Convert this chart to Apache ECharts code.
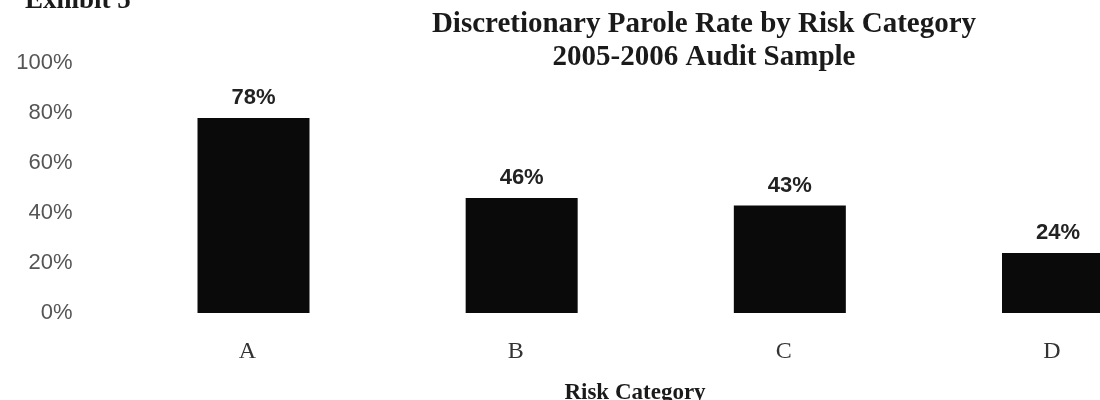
<!DOCTYPE html>
<html>
<head>
<meta charset="utf-8">
<script src="https://cdn.jsdelivr.net/npm/echarts@6/dist/echarts.min.js"></script>
<style>html,body{margin:0;padding:0;background:#fff;}#c{width:1100px;height:400px;}</style>
</head>
<body>
<div id="c"></div>
<script>
var categories = ['A', 'B', 'C', 'D'];
var paroleRates = [78, 46, 43, 24];
var yTicks = [0, 20, 40, 60, 80, 100];

var chart = echarts.init(document.getElementById('c'));
chart.setOption({
  animation: false,
  backgroundColor: '#ffffff',
  title: [
    {
      text: 'Discretionary Parole Rate by Risk Category\n2005-2006 Audit Sample',
      left: 699, top: 3, textAlign: 'center',
      textStyle: { fontFamily: 'Liberation Serif', fontWeight: 'bold', fontSize: 29, lineHeight: 33, color: '#1a1a1a' }
    },
    {
      text: 'Exhibit 5',
      left: 20, top: -17,
      textStyle: { fontFamily: 'Liberation Serif', fontWeight: 'bold', fontSize: 27, color: '#1a1a1a' }
    },
    {
      text: 'Risk Category',
      left: 630, top: 376, textAlign: 'center',
      textStyle: { fontFamily: 'Liberation Serif', fontWeight: 'bold', fontSize: 23, lineHeight: 24, color: '#1a1a1a' }
    }
  ],
  grid: { left: 253.5, right: 42, top: 63, bottom: 87, containLabel: false },
  xAxis: {
    type: 'category',
    data: categories,
    boundaryGap: false,
    axisLine: { show: false },
    axisTick: { show: false },
    splitLine: { show: false },
    axisLabel: {
      margin: 27, padding: [0, 12, 0, 0],
      fontFamily: 'Liberation Serif', fontSize: 24, color: '#333'
    }
  },
  yAxis: {
    type: 'value',
    min: yTicks[0], max: yTicks[yTicks.length - 1], interval: 20,
    axisLine: { show: false },
    axisTick: { show: false },
    splitLine: { show: false },
    axisLabel: {
      margin: 181, formatter: '{value}%',
      fontFamily: 'Liberation Sans', fontSize: 22, color: '#555'
    }
  },
  series: [{
    type: 'bar',
    data: paroleRates,
    barWidth: 112,
    clip: false,
    itemStyle: { color: '#0a0a0a' },
    label: {
      show: true, position: 'top', distance: 9,
      formatter: '{c}%',
      fontFamily: 'Liberation Sans', fontWeight: 'bold', fontSize: 22, color: '#222'
    }
  }]
});
</script>
</body>
</html>
